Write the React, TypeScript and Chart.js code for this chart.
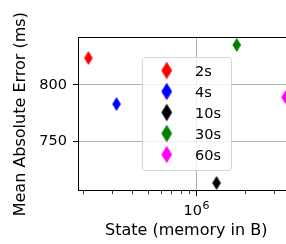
import React, { useEffect, useRef } from 'react';
import { Chart, registerables } from 'chart.js';

Chart.register(...registerables);

const seriesLabels = ['2s', '4s', '10s', '30s', '60s'];
const seriesColors = ['#ff0000', '#0000ff', '#000000', '#008000', '#ff00ff'];
const stateBytes = [2.135e5, 3.184e5, 1.321e6, 1.76e6, 3.526e6];
const meanAbsError = [823.8, 783.2, 713.6, 835.3, 789.2];
const yTickValues = [750, 800];
const xMajorTicks = [1e6];
const xMinorTicks = [2e5, 3e5, 4e5, 5e5, 6e5, 7e5, 8e5, 9e5, 2e6, 3e6];

const FONT = '"DejaVu Sans", "Liberation Sans", sans-serif';

function makeDiamond(color: string, halfW: number, halfH: number, cw: number, ch: number) {
  const c = document.createElement('canvas');
  c.width = cw;
  c.height = ch;
  const g = c.getContext('2d')!;
  const cx = cw / 2;
  const cy = ch / 2;
  g.fillStyle = color;
  g.beginPath();
  g.moveTo(cx, cy - halfH);
  g.lineTo(cx + halfW, cy);
  g.lineTo(cx, cy + halfH);
  g.lineTo(cx - halfW, cy);
  g.closePath();
  g.fill();
  return c;
}

export default function App() {
  const ref = useRef<HTMLCanvasElement>(null);

  useEffect(() => {
    const canvas = ref.current!;
    const pointImgs = seriesColors.map((c) => makeDiamond(c, 4.3, 6.9, 12, 16));
    const legendImgs = seriesColors.map((c) => makeDiamond(c, 5.4, 8.8, 14, 20));

    const decor = {
      id: 'decor',
      afterDraw(chart: any) {
        const { ctx, chartArea: a, scales } = chart;
        const xs = scales.x;
        ctx.save();
        ctx.strokeStyle = '#000';
        ctx.lineWidth = 1;
        // top spine
        const ty = Math.round(a.top - 0.5) + 0.5;
        ctx.beginPath();
        ctx.moveTo(a.left - 0.5, ty);
        ctx.lineTo(a.right, ty);
        ctx.stroke();
        // x tick marks
        const by = Math.round(a.bottom - 0.5) + 1;
        const drawTick = (v: number, len: number, w: number) => {
          const px = Math.round(xs.getPixelForValue(v) - 0.5) + 0.5;
          ctx.lineWidth = w;
          ctx.beginPath();
          ctx.moveTo(px, by);
          ctx.lineTo(px, by + len);
          ctx.stroke();
        };
        xMinorTicks.forEach((v) => drawTick(v, 3.2, 0.8));
        xMajorTicks.forEach((v) => drawTick(v, 5.3, 1));
        // major tick label 10^6
        ctx.fillStyle = '#000';
        ctx.textAlign = 'left';
        ctx.textBaseline = 'alphabetic';
        xMajorTicks.forEach((v) => {
          const px = xs.getPixelForValue(v);
          const exp = String(Math.round(Math.log10(v)));
          ctx.font = `14.5px ${FONT}`;
          const wBase = ctx.measureText('10').width;
          ctx.font = `11px ${FONT}`;
          const wExp = ctx.measureText(exp).width;
          const x0 = px - (wBase + wExp + 0.5) / 2 - 0.5;
          ctx.font = `14.5px ${FONT}`;
          ctx.fillText('10', x0, 215);
          ctx.font = `11px ${FONT}`;
          ctx.fillText(exp, x0 + wBase + 0.5, 209);
        });
        // legend
        const lx = 142.5, ly = 57.5, lw = 89, lh = 113;
        ctx.beginPath();
        if ((ctx as any).roundRect) (ctx as any).roundRect(lx, ly, lw, lh, 3);
        else ctx.rect(lx, ly, lw, lh);
        ctx.fillStyle = 'rgba(255,255,255,0.8)';
        ctx.fill();
        ctx.strokeStyle = '#d6d6d6';
        ctx.lineWidth = 1;
        ctx.stroke();
        ctx.font = `14.5px ${FONT}`;
        ctx.fillStyle = '#000';
        seriesLabels.forEach((label, i) => {
          const rowY = 70.5 + i * 21;
          const img = legendImgs[i];
          ctx.drawImage(img, 166.7 - img.width / 2, rowY - img.height / 2);
          ctx.fillText(label, 195, rowY + 5.8);
        });
        ctx.restore();
      },
    };

    const chart = new Chart(canvas, {
      type: 'scatter',
      data: {
        datasets: seriesLabels.map((label, i) => ({
          label,
          data: [{ x: stateBytes[i], y: meanAbsError[i] }],
          pointStyle: pointImgs[i] as any,
          pointRadius: 5,
          backgroundColor: seriesColors[i],
          borderColor: seriesColors[i],
        })),
      },
      options: {
        responsive: false,
        animation: false,
        devicePixelRatio: 1,
        events: [],
        layout: { padding: { left: 0, top: 37.7, right: 4, bottom: 0 } },
        plugins: {
          legend: { display: false },
          tooltip: { enabled: false },
        },
        scales: {
          x: {
            type: 'logarithmic',
            position: 'bottom',
            min: 1.854e5,
            max: 3.977e6,
            afterBuildTicks: (s: any) => {
              s.ticks = [...xMinorTicks, ...xMajorTicks]
                .sort((a, b) => a - b)
                .map((v) => ({ value: v }));
            },
            afterFit: (s: any) => {
              s.height = 53.3;
            },
            ticks: { display: false },
            grid: {
              color: (c: any) =>
                c.tick && xMajorTicks.includes(c.tick.value) ? '#b0b0b0' : 'rgba(0,0,0,0)',
              drawTicks: false,
              lineWidth: 1,
            },
            border: { display: true, color: '#000', width: 1 },
            title: {
              display: true,
              text: 'State (memory in B)',
              color: '#000',
              font: { family: FONT, size: 16 },
              padding: { top: 0, bottom: 3.4 },
            },
          },
          y: {
            type: 'linear',
            position: 'left',
            min: 706.8,
            max: 841.7,
            afterBuildTicks: (s: any) => {
              s.ticks = yTickValues.map((v) => ({ value: v }));
            },
            afterFit: (s: any) => {
              s.width = 78.5;
            },
            ticks: {
              color: '#000',
              font: { family: FONT, size: 14.5 },
              padding: 6,
            },
            grid: {
              color: '#b0b0b0',
              lineWidth: 1,
              tickColor: '#000',
              tickLength: 5.5,
              tickWidth: 1,
            },
            border: { display: true, color: '#000', width: 1 },
            title: {
              display: true,
              text: 'Mean Absolute Error (ms)',
              color: '#000',
              font: { family: FONT, size: 16 },
              padding: { top: 11.4, bottom: 0 },
            },
          },
        },
      },
      plugins: [decor],
    });
    return () => chart.destroy();
  }, []);

  return (
    <div
      style={{
        position: 'fixed',
        left: 0,
        top: 0,
        width: 286,
        height: 244,
        overflow: 'hidden',
        background: '#fff',
      }}
    >
      <canvas ref={ref} width={300} height={244} style={{ display: 'block', width: 300, height: 244 }} />
    </div>
  );
}
